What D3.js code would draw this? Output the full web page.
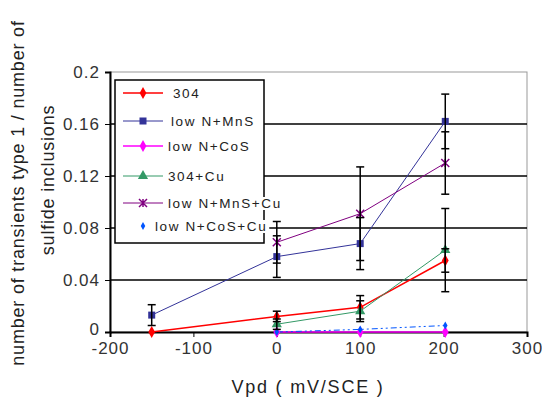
<!DOCTYPE html>
<html>
<head>
<meta charset="utf-8">
<script src="https://cdn.jsdelivr.net/npm/d3@7"></script>
<style>
  body { margin: 0; background: #fff; }
  text { font-family: "Liberation Sans", Arial, sans-serif; }
</style>
</head>
<body>
<svg id="chart" width="542" height="401"></svg>
<script>
// data
const vpd = [-150, 0, 100, 202];
const yTicks = [0, 0.04, 0.08, 0.12, 0.16, 0.2];
const yTickLabels = ["0", "0.04", "0.08", "0.12", "0.16", "0.2"];
const xTicks = [-200, -100, 0, 100, 200, 300];

const s304 = [0, 0.012, 0.019, 0.055];
const s304Err = [0, 0.004, 0.009, 0.009];
const lowNMnS = [0.013, 0.058, 0.068, 0.162];
const lowNMnSErr = [0.008, 0.016, 0.02, 0.021];
const lowNCoS = [null, 0, 0, 0];
const s304Cu = [null, 0.006, 0.016, 0.063];
const s304CuErr = [null, 0.004, 0.008, 0.032];
const lowNMnSCu = [null, 0.069, 0.091, 0.13];
const lowNMnSCuErr = [null, 0.016, 0.036, 0.024];
const lowNCoSCu = [null, 0, 0.002, 0.005];

const series = [
  {name: "304", vals: s304, err: s304Err, color: "#ff0000", sym: "diamond", w: 1.5},
  {name: "low N+MnS", vals: lowNMnS, err: lowNMnSErr, color: "#333399", sym: "square", w: 1},
  {name: "low N+CoS", vals: lowNCoS, err: null, color: "#ff00ff", sym: "diamond", w: 1.5},
  {name: "304+Cu", vals: s304Cu, err: s304CuErr, color: "#339966", sym: "triangle", w: 1},
  {name: "low N+MnS+Cu", vals: lowNMnSCu, err: lowNMnSCuErr, color: "#800080", sym: "star", w: 1},
  {name: "low N+CoS+Cu", vals: lowNCoSCu, err: null, color: "#0055ff", sym: "dot", w: 1, dash: "6,3,2,3,2,3"}
];

const svg = d3.select("#chart");
const mLeft = 110, mRight = 527, mTop = 72, mBottom = 332;

const x = d3.scaleLinear().domain([-200, 300]).range([mLeft, mRight]);
const y = d3.scaleLinear().domain([0, 0.2]).range([mBottom, mTop]);

// plot frame (grey top/right)
svg.append("rect")
  .attr("x", mLeft).attr("y", mTop)
  .attr("width", mRight - mLeft).attr("height", mBottom - mTop)
  .attr("fill", "none").attr("stroke", "#999").attr("stroke-width", 1);

// gridlines
svg.append("g")
  .selectAll("line")
  .data(yTicks.filter(d => d > 0 && d < 0.2))
  .join("line")
  .attr("x1", mLeft).attr("x2", mRight)
  .attr("y1", d => y(d)).attr("y2", d => y(d))
  .attr("stroke", "#000").attr("stroke-width", 1.5);

// axes
const yAxis = svg.append("g")
  .attr("transform", `translate(${mLeft},0)`)
  .call(d3.axisLeft(y).tickValues(yTicks).tickSize(5).tickPadding(5)
    .tickFormat((d, i) => yTickLabels[i]));
yAxis.select(".domain").attr("stroke", "#000").attr("stroke-width", 2);
yAxis.selectAll("text").attr("font-size", 17).attr("letter-spacing", 1).attr("fill", "#333")
  .attr("dy", "0.3em");
yAxis.selectAll(".tick").filter(d => d === 0).select("text").attr("dy", "0.15em");

const xAxis = svg.append("g")
  .attr("transform", `translate(0,${mBottom})`)
  .call(d3.axisBottom(x).tickValues(xTicks).tickSize(5).tickPadding(5));
xAxis.select(".domain").attr("stroke", "#000").attr("stroke-width", 2);
xAxis.selectAll("text").attr("font-size", 17).attr("letter-spacing", 1).attr("fill", "#333")
  .text(d => d < 0 ? "-" + Math.abs(d) : d);

// axis titles
svg.append("text")
  .attr("transform", "translate(24,193) rotate(-90)")
  .attr("text-anchor", "middle")
  .attr("font-size", 18).attr("letter-spacing", 0.8).attr("fill", "#222")
  .text("number of transients type 1 / number of");
svg.append("text")
  .attr("transform", "translate(54,180) rotate(-90)")
  .attr("text-anchor", "middle")
  .attr("font-size", 18).attr("letter-spacing", 0.8).attr("fill", "#222")
  .text("sulfide inclusions");
svg.append("text")
  .attr("x", 308).attr("y", 393)
  .attr("text-anchor", "middle")
  .attr("font-size", 18).attr("letter-spacing", 1.8).attr("fill", "#222")
  .text("Vpd ( mV/SCE )");

function drawMarker(g, sym, color, cx, cy) {
  if (sym === "square") {
    g.append("rect").attr("x", cx - 3.5).attr("y", cy - 3.5).attr("width", 7).attr("height", 7)
      .attr("fill", color);
  } else if (sym === "star") {
    const r = 4;
    g.append("path")
      .attr("d", `M${cx - r},${cy - r}L${cx + r},${cy + r}M${cx - r},${cy + r}L${cx + r},${cy - r}M${cx},${cy - r}L${cx},${cy + r}`)
      .attr("stroke", color).attr("stroke-width", 1.5);
  } else if (sym === "dot") {
    g.append("path").attr("transform", `translate(${cx},${cy})`)
      .attr("d", d3.symbol(d3.symbolDiamond, 18)()).attr("fill", color);
  } else {
    const t = sym === "triangle" ? d3.symbolTriangle : d3.symbolDiamond;
    g.append("path").attr("transform", `translate(${cx},${cy})`)
      .attr("d", d3.symbol(t, sym === "triangle" ? 45 : 40)()).attr("fill", color);
  }
}

// lines
const line = d3.line()
  .defined(d => d[1] != null)
  .x(d => x(d[0])).y(d => y(d[1]));

const marks = svg.append("g");
series.forEach(s => {
  const pts = vpd.map((v, i) => [v, s.vals[i]]);
  marks.append("path")
    .datum(pts)
    .attr("d", line)
    .attr("fill", "none")
    .attr("stroke", s.color)
    .attr("stroke-width", s.w)
    .attr("stroke-dasharray", s.dash || null);
});

// markers
series.forEach(s => {
  vpd.forEach((v, i) => {
    if (s.vals[i] == null) return;
    drawMarker(marks, s.sym, s.color, x(v), y(s.vals[i]));
  });
});

// error bars
const eb = svg.append("g").attr("stroke", "#000").attr("stroke-width", 1.5);
series.forEach(s => {
  if (!s.err) return;
  vpd.forEach((v, i) => {
    const e = s.err[i];
    if (s.vals[i] == null || !e) return;
    const cx = x(v), y1 = y(s.vals[i] + e), y0 = y(Math.max(0, s.vals[i] - e));
    eb.append("line").attr("x1", cx).attr("x2", cx).attr("y1", y1).attr("y2", y0);
    eb.append("line").attr("x1", cx - 4).attr("x2", cx + 4).attr("y1", y1).attr("y2", y1);
    eb.append("line").attr("x1", cx - 4).attr("x2", cx + 4).attr("y1", y0).attr("y2", y0);
  });
});

// legend
const lg = svg.append("g");
lg.append("rect")
  .attr("x", 115).attr("y", 80).attr("width", 149).attr("height", 163)
  .attr("fill", "#fff").attr("stroke", "#000").attr("stroke-width", 1.5);
const legY = [93, 121, 146, 176, 203, 226];
const legTextX = [173, 171, 168, 168, 168, 155];
series.forEach((s, i) => {
  const ly = legY[i];
  if (s.sym !== "dot") {
    lg.append("line").attr("x1", 123).attr("x2", 163).attr("y1", ly).attr("y2", ly)
      .attr("stroke", s.color).attr("stroke-width", s.w);
  }
  drawMarker(lg, s.sym, s.color, 143, ly);
  const bg = lg.append("rect").attr("fill", "#fff");
  const t = lg.append("text")
    .attr("x", legTextX[i]).attr("y", ly + 5)
    .attr("font-size", 13.5).attr("letter-spacing", 1.6).attr("fill", "#222")
    .text(s.name);
  const bb = t.node().getBBox();
  bg.attr("x", bb.x).attr("y", bb.y + 1).attr("width", bb.width + 2).attr("height", bb.height - 2);
});
</script>
</body>
</html>
